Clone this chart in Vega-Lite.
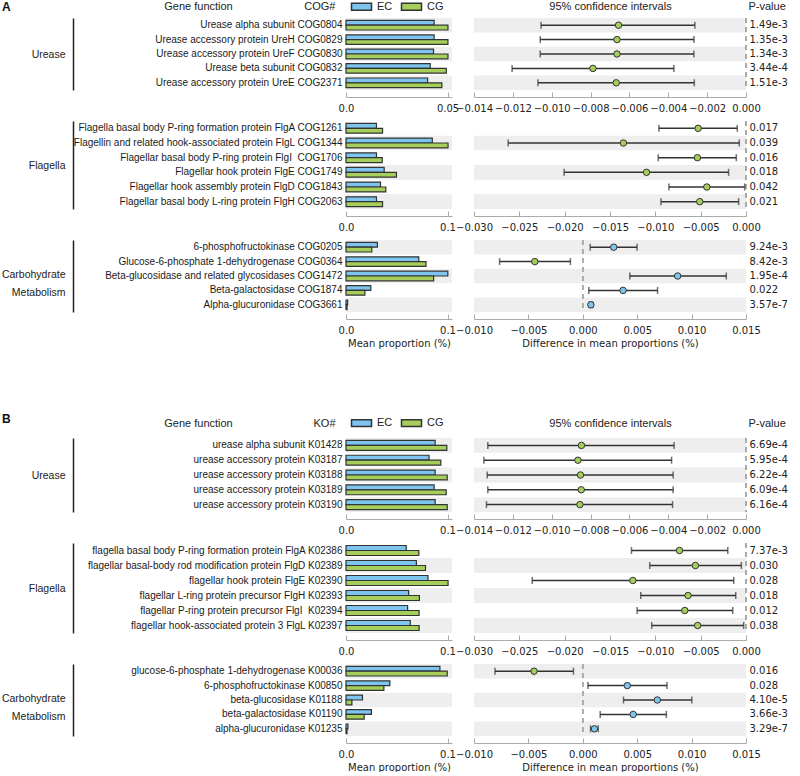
{
  "$schema": "https://vega.github.io/schema/vega-lite/v6.json",
  "padding": {"left": 1, "top": 0, "right": 0, "bottom": 0},
  "background": "white",
  "config": {
    "view": {"stroke": null},
    "font": "Liberation Sans",
    "axis": {"grid": false, "labelFlush": false, "labelOverlap": false, "titleFontWeight": "normal", "domainColor": "#aaaaaa", "tickColor": "#aaaaaa", "labelFont": "DejaVu Sans", "labelFontSize": 10, "labelColor": "#222222", "titleFont": "DejaVu Sans", "titleFontSize": 10, "titleColor": "#222222"}
  },
  "datasets": {
    "rows": [
      {"g": "AU", "label": "Urease alpha subunit COG0804", "EC": 0.0434, "CG": 0.0502, "diff": -0.00656, "lo": -0.01055, "hi": -0.00263, "pval": "1.49e-3"},
      {"g": "AU", "label": "Urease accessory protein UreH COG0829", "EC": 0.0434, "CG": 0.0502, "diff": -0.00664, "lo": -0.01059, "hi": -0.00268, "pval": "1.35e-3"},
      {"g": "AU", "label": "Urease accessory protein UreF COG0830", "EC": 0.0431, "CG": 0.0502, "diff": -0.00664, "lo": -0.01059, "hi": -0.00268, "pval": "1.34e-3"},
      {"g": "AU", "label": "Urease beta subunit COG0832", "EC": 0.0415, "CG": 0.0494, "diff": -0.00788, "lo": -0.01204, "hi": -0.00371, "pval": "3.44e-4"},
      {"g": "AU", "label": "Urease accessory protein UreE COG2371", "EC": 0.0402, "CG": 0.0472, "diff": -0.00668, "lo": -0.01071, "hi": -0.00266, "pval": "1.51e-3"},
      {"g": "AF", "label": "Flagella basal body P-ring formation protein FlgA COG1261", "EC": 0.030, "CG": 0.036, "diff": -0.00528, "lo": -0.00961, "hi": -0.00096, "pval": "0.017"},
      {"g": "AF", "label": "Flagellin and related hook-associated protein FlgL COG1344", "EC": 0.085, "CG": 0.1005, "diff": -0.01352, "lo": -0.02623, "hi": -0.00074, "pval": "0.039"},
      {"g": "AF", "label": "Flagellar basal body P-ring protein FlgI\u00a0 COG1706", "EC": 0.030, "CG": 0.0357, "diff": -0.00536, "lo": -0.00968, "hi": -0.00107, "pval": "0.016"},
      {"g": "AF", "label": "Flagellar hook protein FlgE COG1749", "EC": 0.0376, "CG": 0.0497, "diff": -0.01097, "lo": -0.02006, "hi": -0.00192, "pval": "0.018"},
      {"g": "AF", "label": "Flagellar hook assembly protein FlgD COG1843", "EC": 0.034, "CG": 0.0392, "diff": -0.00432, "lo": -0.0085, "hi": -0.00015, "pval": "0.042"},
      {"g": "AF", "label": "Flagellar basal body L-ring protein FlgH COG2063", "EC": 0.030, "CG": 0.036, "diff": -0.0051, "lo": -0.00938, "hi": -0.00081, "pval": "0.021"},
      {"g": "AC", "label": "6-phosphofructokinase COG0205", "EC": 0.0309, "CG": 0.0254, "diff": 0.00284, "lo": 0.00068, "hi": 0.00499, "pval": "9.24e-3"},
      {"g": "AC", "label": "Glucose-6-phosphate 1-dehydrogenase COG0364", "EC": 0.0717, "CG": 0.0788, "diff": -0.00441, "lo": -0.00765, "hi": -0.00114, "pval": "8.42e-3"},
      {"g": "AC", "label": "Beta-glucosidase and related glycosidases COG1472", "EC": 0.1003, "CG": 0.0863, "diff": 0.00872, "lo": 0.00432, "hi": 0.01319, "pval": "1.95e-4"},
      {"g": "AC", "label": "Beta-galactosidase COG1874", "EC": 0.0244, "CG": 0.0186, "diff": 0.0037, "lo": 0.00055, "hi": 0.00687, "pval": "0.022"},
      {"g": "AC", "label": "Alpha-glucuronidase COG3661", "EC": 0.0016, "CG": 0.001, "diff": 0.00074, "lo": 0.0006, "hi": 0.0009, "pval": "3.57e-7"},
      {"g": "BU", "label": "urease alpha subunit K01428", "EC": 0.0878, "CG": 0.0993, "diff": -0.00847, "lo": -0.01329, "hi": -0.0037, "pval": "6.69e-4"},
      {"g": "BU", "label": "urease accessory protein K03187", "EC": 0.0818, "CG": 0.0934, "diff": -0.00865, "lo": -0.01349, "hi": -0.00383, "pval": "5.95e-4"},
      {"g": "BU", "label": "urease accessory protein K03188", "EC": 0.0878, "CG": 0.0997, "diff": -0.00852, "lo": -0.01332, "hi": -0.00375, "pval": "6.22e-4"},
      {"g": "BU", "label": "urease accessory protein K03189", "EC": 0.0868, "CG": 0.0987, "diff": -0.00848, "lo": -0.01329, "hi": -0.00375, "pval": "6.09e-4"},
      {"g": "BU", "label": "urease accessory protein K03190", "EC": 0.0878, "CG": 0.0997, "diff": -0.00855, "lo": -0.01336, "hi": -0.00378, "pval": "6.16e-4"},
      {"g": "BF", "label": "flagella basal body P-ring formation protein FlgA K02386", "EC": 0.0593, "CG": 0.0717, "diff": -0.00734, "lo": -0.01263, "hi": -0.00201, "pval": "7.37e-3"},
      {"g": "BF", "label": "flagellar basal-body rod modification protein FlgD K02389", "EC": 0.0693, "CG": 0.0783, "diff": -0.00558, "lo": -0.01062, "hi": -0.00051, "pval": "0.030"},
      {"g": "BF", "label": "flagellar hook protein FlgE K02390", "EC": 0.0807, "CG": 0.1005, "diff": -0.01248, "lo": -0.02358, "hi": -0.00135, "pval": "0.028"},
      {"g": "BF", "label": "flagellar L-ring protein precursor FlgH K02393", "EC": 0.0617, "CG": 0.0723, "diff": -0.00639, "lo": -0.01161, "hi": -0.00113, "pval": "0.018"},
      {"g": "BF", "label": "flagellar P-ring protein precursor FlgI\u00a0 K02394", "EC": 0.0607, "CG": 0.072, "diff": -0.00675, "lo": -0.01201, "hi": -0.00146, "pval": "0.012"},
      {"g": "BF", "label": "flagellar hook-associated protein 3 FlgL K02397", "EC": 0.0633, "CG": 0.072, "diff": -0.00533, "lo": -0.0104, "hi": -0.00026, "pval": "0.038"},
      {"g": "BC", "label": "glucose-6-phosphate 1-dehydrogenase K00036", "EC": 0.0925, "CG": 0.0997, "diff": -0.00448, "lo": -0.00807, "hi": -0.00086, "pval": "0.016"},
      {"g": "BC", "label": "6-phosphofructokinase K00850", "EC": 0.0432, "CG": 0.0373, "diff": 0.00409, "lo": 0.00047, "hi": 0.00774, "pval": "0.028"},
      {"g": "BC", "label": "beta-glucosidase K01188", "EC": 0.0162, "CG": 0.0058, "diff": 0.00685, "lo": 0.00374, "hi": 0.01002, "pval": "4.10e-5"},
      {"g": "BC", "label": "beta-galactosidase K01190", "EC": 0.025, "CG": 0.0179, "diff": 0.00463, "lo": 0.0016, "hi": 0.00768, "pval": "3.66e-3"},
      {"g": "BC", "label": "alpha-glucuronidase K01235", "EC": 0.0019, "CG": 0.001, "diff": 0.00107, "lo": 0.00071, "hi": 0.00142, "pval": "3.29e-7"}
    ]
  },
  "columns": 3,
  "spacing": {"row": 31, "column": 22},
  "bounds": "flush",
  "resolve": {"scale": {"color": "independent", "yOffset": "independent"}},
  "concat": [
    {
      "width": 251, "height": 72,
      "title": {"text": "A", "anchor": "start", "frame": "group", "dx": -71, "offset": -7.5, "baseline": "bottom", "fontSize": 12, "fontWeight": "bold", "font": "Liberation Sans", "color": "#111111"},
      "data": {"name": "rows"},
      "transform": [{"filter": "datum.g == 'AU'"}],
      "mark": {"type": "point", "opacity": 0},
      "encoding": {"y": {"field": "label", "type": "nominal", "sort": null, "axis": {"labels": false, "ticks": false, "domainColor": "#222222", "domainWidth": 1.5, "title": "Urease", "titleAngle": 0, "titleAlign": "right", "titleBaseline": "middle", "titleX": -8, "titleY": 36, "titleFont": "Liberation Sans", "titleFontSize": 10.5}}}
    },
    {
      "width": 106, "height": 72,
      "data": {"name": "rows"},
      "transform": [{"filter": "datum.g == 'AU'"}, {"window": [{"op": "row_number", "as": "rn"}]}],
      "layer": [
        {
          "mark": {"type": "rect", "color": "#eeeeee"},
          "encoding": {
            "y": {"field": "label", "type": "nominal", "sort": null, "scale": {"paddingInner": 0, "paddingOuter": 0}, "axis": {"domain": false, "ticks": false, "labelPadding": 4, "labelFont": "Liberation Sans", "labelFontSize": 10, "labelColor": "#1a1a1a", "labelLimit": 400, "title": "Gene function", "titleAngle": 0, "titleAlign": "center", "titleBaseline": "middle", "titleX": -148, "titleY": -11.3, "titleFont": "Liberation Sans", "titleFontSize": 11}},
            "x": {"datum": 0, "type": "quantitative"},
            "x2": {"datum": 0.0522},
            "opacity": {"condition": {"test": "datum.rn % 2 == 1", "value": 1}, "value": 0}
          }
        },
        {
          "transform": [{"fold": ["EC", "CG"], "as": ["set", "value"]}],
          "mark": {"type": "bar", "stroke": "#333333", "strokeWidth": 1.2},
          "encoding": {
            "y": {"field": "label", "type": "nominal", "sort": null},
            "x": {"field": "value", "type": "quantitative", "scale": {"domain": [0, 0.0522], "nice": false, "zero": false}, "axis": {"offset": 7, "values": [0, 0.05], "tickCount": 20, "labelOverlap": false, "labelExpr": "datum.value == 0 ? '0.0' : format(datum.value, '~g')", "tickSize": -5, "labelPadding": 11, "title": "COG#", "titleAngle": 0, "titleAlign": "right", "titleBaseline": "middle", "titleX": -11, "titleY": -90.3, "titleFont": "Liberation Sans", "titleFontSize": 11}},
            "yOffset": {"field": "set", "type": "nominal", "sort": ["EC", "CG"], "scale": {"paddingInner": 0, "paddingOuter": 0.5}},
            "color": {"field": "set", "type": "nominal", "sort": ["EC", "CG"], "scale": {"domain": ["EC", "CG"], "range": ["#7dc5ee", "#a5ce5b"]}, "legend": {"orient": "none", "legendX": 10, "legendY": -16.8, "direction": "horizontal", "title": null, "padding": 0, "symbolType": "M-2.5,-0.85H2.5V0.85H-2.5Z", "symbolSize": 64, "symbolStrokeColor": "#333333", "symbolStrokeWidth": 1.5, "symbolOpacity": 1, "labelFont": "Liberation Sans", "labelFontSize": 11, "labelColor": "#222222", "labelOffset": 10, "columnPadding": 5}}
          }
        }
      ]
    },
    {
      "width": 272, "height": 72,
      "data": {"name": "rows"},
      "transform": [{"filter": "datum.g == 'AU'"}, {"window": [{"op": "row_number", "as": "rn"}]}],
      "layer": [
        {
          "mark": {"type": "rect", "color": "#eeeeee"},
          "encoding": {
            "y": {"field": "pval", "type": "nominal", "sort": null, "scale": {"paddingInner": 0, "paddingOuter": 0}, "axis": {"orient": "right", "domain": false, "ticks": false, "labelPadding": 3, "title": "P-value", "titleAngle": 0, "titleAlign": "left", "titleBaseline": "middle", "titleX": 2, "titleY": -11.3, "titleFont": "Liberation Sans", "titleFontSize": 11}},
            "x": {"datum": -0.014, "type": "quantitative", "scale": {"domain": [-0.014, 0], "nice": false, "zero": false}, "axis": {"offset": 7, "values": [-0.014, -0.012, -0.01, -0.008, -0.006, -0.004, -0.002, 0], "tickCount": 20, "labelOverlap": false, "format": ".3f", "tickSize": -5, "labelPadding": 11, "title": "95% confidence intervals", "titleAngle": 0, "titleAlign": "center", "titleBaseline": "middle", "titleX": 136, "titleY": -90.3, "titleFont": "Liberation Sans", "titleFontSize": 11}},
            "x2": {"datum": 0},
            "opacity": {"condition": {"test": "datum.rn % 2 == 1", "value": 1}, "value": 0}
          }
        },
        {"mark": {"type": "rule", "color": "#aaaaaa", "strokeDash": [5, 4], "strokeWidth": 1.2}, "encoding": {"x": {"datum": 0}}},
        {"mark": {"type": "rule", "color": "#333333", "strokeWidth": 1.5}, "encoding": {"y": {"field": "pval", "type": "nominal", "sort": null}, "x": {"field": "lo", "type": "quantitative"}, "x2": {"field": "hi"}}},
        {"mark": {"type": "tick", "color": "#333333", "size": 7, "thickness": 1.5}, "encoding": {"y": {"field": "pval", "type": "nominal", "sort": null}, "x": {"field": "lo", "type": "quantitative"}}},
        {"mark": {"type": "tick", "color": "#333333", "size": 7, "thickness": 1.5}, "encoding": {"y": {"field": "pval", "type": "nominal", "sort": null}, "x": {"field": "hi", "type": "quantitative"}}},
        {"mark": {"type": "point", "filled": true, "size": 42, "stroke": "#333333", "strokeWidth": 1, "opacity": 1}, "encoding": {"y": {"field": "pval", "type": "nominal", "sort": null}, "x": {"field": "diff", "type": "quantitative"}, "fill": {"condition": {"test": "datum.diff > 0", "value": "#7dc5ee"}, "value": "#a5ce5b"}}}
      ]
    },
    {
      "width": 251, "height": 88,
      "data": {"name": "rows"},
      "transform": [{"filter": "datum.g == 'AF'"}],
      "mark": {"type": "point", "opacity": 0},
      "encoding": {"y": {"field": "label", "type": "nominal", "sort": null, "axis": {"labels": false, "ticks": false, "domainColor": "#222222", "domainWidth": 1.5, "title": "Flagella", "titleAngle": 0, "titleAlign": "right", "titleBaseline": "middle", "titleX": -8, "titleY": 44, "titleFont": "Liberation Sans", "titleFontSize": 10.5}}}
    },
    {
      "width": 106, "height": 88,
      "data": {"name": "rows"},
      "transform": [{"filter": "datum.g == 'AF'"}, {"window": [{"op": "row_number", "as": "rn"}]}],
      "layer": [
        {
          "mark": {"type": "rect", "color": "#eeeeee"},
          "encoding": {
            "y": {"field": "label", "type": "nominal", "sort": null, "scale": {"paddingInner": 0, "paddingOuter": 0}, "axis": {"domain": false, "ticks": false, "labelPadding": 4, "labelFont": "Liberation Sans", "labelFontSize": 10, "labelColor": "#1a1a1a", "labelLimit": 400, "title": null}},
            "x": {"datum": 0, "type": "quantitative"},
            "x2": {"datum": 0.1044},
            "opacity": {"condition": {"test": "datum.rn % 2 == 0", "value": 1}, "value": 0}
          }
        },
        {
          "transform": [{"fold": ["EC", "CG"], "as": ["set", "value"]}],
          "mark": {"type": "bar", "stroke": "#333333", "strokeWidth": 1.2},
          "encoding": {
            "y": {"field": "label", "type": "nominal", "sort": null},
            "x": {"field": "value", "type": "quantitative", "scale": {"domain": [0, 0.1044], "nice": false, "zero": false}, "axis": {"offset": 7, "values": [0, 0.1], "tickCount": 20, "labelOverlap": false, "labelExpr": "datum.value == 0 ? '0.0' : format(datum.value, '~g')", "tickSize": -5, "labelPadding": 11, "title": null}},
            "yOffset": {"field": "set", "type": "nominal", "sort": ["EC", "CG"], "scale": {"paddingInner": 0, "paddingOuter": 0.5}},
            "color": {"field": "set", "type": "nominal", "sort": ["EC", "CG"], "scale": {"domain": ["EC", "CG"], "range": ["#7dc5ee", "#a5ce5b"]}, "legend": null}
          }
        }
      ]
    },
    {
      "width": 272, "height": 88,
      "data": {"name": "rows"},
      "transform": [{"filter": "datum.g == 'AF'"}, {"window": [{"op": "row_number", "as": "rn"}]}],
      "layer": [
        {
          "mark": {"type": "rect", "color": "#eeeeee"},
          "encoding": {
            "y": {"field": "pval", "type": "nominal", "sort": null, "scale": {"paddingInner": 0, "paddingOuter": 0}, "axis": {"orient": "right", "domain": false, "ticks": false, "labelPadding": 3, "title": null}},
            "x": {"datum": -0.03, "type": "quantitative", "scale": {"domain": [-0.03, 0], "nice": false, "zero": false}, "axis": {"offset": 7, "values": [-0.03, -0.025, -0.02, -0.015, -0.01, -0.005, 0], "tickCount": 20, "labelOverlap": false, "format": ".3f", "tickSize": -5, "labelPadding": 11, "title": null}},
            "x2": {"datum": 0},
            "opacity": {"condition": {"test": "datum.rn % 2 == 0", "value": 1}, "value": 0}
          }
        },
        {"mark": {"type": "rule", "color": "#aaaaaa", "strokeDash": [5, 4], "strokeWidth": 1.2}, "encoding": {"x": {"datum": 0}}},
        {"mark": {"type": "rule", "color": "#333333", "strokeWidth": 1.5}, "encoding": {"y": {"field": "pval", "type": "nominal", "sort": null}, "x": {"field": "lo", "type": "quantitative"}, "x2": {"field": "hi"}}},
        {"mark": {"type": "tick", "color": "#333333", "size": 7, "thickness": 1.5}, "encoding": {"y": {"field": "pval", "type": "nominal", "sort": null}, "x": {"field": "lo", "type": "quantitative"}}},
        {"mark": {"type": "tick", "color": "#333333", "size": 7, "thickness": 1.5}, "encoding": {"y": {"field": "pval", "type": "nominal", "sort": null}, "x": {"field": "hi", "type": "quantitative"}}},
        {"mark": {"type": "point", "filled": true, "size": 42, "stroke": "#333333", "strokeWidth": 1, "opacity": 1}, "encoding": {"y": {"field": "pval", "type": "nominal", "sort": null}, "x": {"field": "diff", "type": "quantitative"}, "fill": {"condition": {"test": "datum.diff > 0", "value": "#7dc5ee"}, "value": "#a5ce5b"}}}
      ]
    },
    {
      "width": 251, "height": 72,
      "data": {"name": "rows"},
      "transform": [{"filter": "datum.g == 'AC'"}],
      "mark": {"type": "point", "opacity": 0},
      "encoding": {"y": {"field": "label", "type": "nominal", "sort": null, "axis": {"labels": false, "ticks": false, "domainColor": "#222222", "domainWidth": 1.5, "title": ["Carbohydrate", "Metabolism"], "titleLineHeight": 18, "titleAngle": 0, "titleAlign": "right", "titleBaseline": "middle", "titleX": -8, "titleY": 34, "titleFont": "Liberation Sans", "titleFontSize": 10.5}}}
    },
    {
      "width": 106, "height": 72,
      "data": {"name": "rows"},
      "transform": [{"filter": "datum.g == 'AC'"}, {"window": [{"op": "row_number", "as": "rn"}]}],
      "layer": [
        {
          "mark": {"type": "rect", "color": "#eeeeee"},
          "encoding": {
            "y": {"field": "label", "type": "nominal", "sort": null, "scale": {"paddingInner": 0, "paddingOuter": 0}, "axis": {"domain": false, "ticks": false, "labelPadding": 4, "labelFont": "Liberation Sans", "labelFontSize": 10, "labelColor": "#1a1a1a", "labelLimit": 400, "title": null}},
            "x": {"datum": 0, "type": "quantitative"},
            "x2": {"datum": 0.1044},
            "opacity": {"condition": {"test": "datum.rn % 2 == 1", "value": 1}, "value": 0}
          }
        },
        {
          "transform": [{"fold": ["EC", "CG"], "as": ["set", "value"]}],
          "mark": {"type": "bar", "stroke": "#333333", "strokeWidth": 1.2},
          "encoding": {
            "y": {"field": "label", "type": "nominal", "sort": null},
            "x": {"field": "value", "type": "quantitative", "scale": {"domain": [0, 0.1044], "nice": false, "zero": false}, "axis": {"offset": 7, "values": [0, 0.1], "tickCount": 20, "labelOverlap": false, "labelExpr": "datum.value == 0 ? '0.0' : format(datum.value, '~g')", "tickSize": -5, "labelPadding": 11, "title": "Mean proportion (%)", "titlePadding": 3}},
            "yOffset": {"field": "set", "type": "nominal", "sort": ["EC", "CG"], "scale": {"paddingInner": 0, "paddingOuter": 0.5}},
            "color": {"field": "set", "type": "nominal", "sort": ["EC", "CG"], "scale": {"domain": ["EC", "CG"], "range": ["#7dc5ee", "#a5ce5b"]}, "legend": null}
          }
        }
      ]
    },
    {
      "width": 272, "height": 72,
      "data": {"name": "rows"},
      "transform": [{"filter": "datum.g == 'AC'"}, {"window": [{"op": "row_number", "as": "rn"}]}],
      "layer": [
        {
          "mark": {"type": "rect", "color": "#eeeeee"},
          "encoding": {
            "y": {"field": "pval", "type": "nominal", "sort": null, "scale": {"paddingInner": 0, "paddingOuter": 0}, "axis": {"orient": "right", "domain": false, "ticks": false, "labelPadding": 3, "title": null}},
            "x": {"datum": -0.01, "type": "quantitative", "scale": {"domain": [-0.01, 0.015], "nice": false, "zero": false}, "axis": {"offset": 7, "values": [-0.01, -0.005, 0, 0.005, 0.01, 0.015], "tickCount": 20, "labelOverlap": false, "format": ".3f", "tickSize": -5, "labelPadding": 11, "title": "Difference in mean proportions (%)", "titlePadding": 3}},
            "x2": {"datum": 0.015},
            "opacity": {"condition": {"test": "datum.rn % 2 == 1", "value": 1}, "value": 0}
          }
        },
        {"mark": {"type": "rule", "color": "#aaaaaa", "strokeDash": [5, 4], "strokeWidth": 1.2}, "encoding": {"x": {"datum": 0}}},
        {"mark": {"type": "rule", "color": "#333333", "strokeWidth": 1.5}, "encoding": {"y": {"field": "pval", "type": "nominal", "sort": null}, "x": {"field": "lo", "type": "quantitative"}, "x2": {"field": "hi"}}},
        {"mark": {"type": "tick", "color": "#333333", "size": 7, "thickness": 1.5}, "encoding": {"y": {"field": "pval", "type": "nominal", "sort": null}, "x": {"field": "lo", "type": "quantitative"}}},
        {"mark": {"type": "tick", "color": "#333333", "size": 7, "thickness": 1.5}, "encoding": {"y": {"field": "pval", "type": "nominal", "sort": null}, "x": {"field": "hi", "type": "quantitative"}}},
        {"mark": {"type": "point", "filled": true, "size": 42, "stroke": "#333333", "strokeWidth": 1, "opacity": 1}, "encoding": {"y": {"field": "pval", "type": "nominal", "sort": null}, "x": {"field": "diff", "type": "quantitative"}, "fill": {"condition": {"test": "datum.diff > 0", "value": "#7dc5ee"}, "value": "#a5ce5b"}}}
      ]
    },
    {"width": 251, "height": 63.7, "data": {"values": [{"s": 1}]}, "mark": {"type": "point", "opacity": 0}, "encoding": {}},
    {"width": 106, "height": 63.7, "data": {"values": [{"s": 1}]}, "mark": {"type": "point", "opacity": 0}, "encoding": {}},
    {"width": 272, "height": 63.7, "data": {"values": [{"s": 1}]}, "mark": {"type": "point", "opacity": 0}, "encoding": {}},
    {
      "width": 251, "height": 74,
      "title": {"text": "B", "anchor": "start", "frame": "group", "dx": -71, "offset": 0, "baseline": "bottom", "fontSize": 12, "fontWeight": "bold", "font": "Liberation Sans", "color": "#111111"},
      "data": {"name": "rows"},
      "transform": [{"filter": "datum.g == 'BU'"}],
      "mark": {"type": "point", "opacity": 0},
      "encoding": {"y": {"field": "label", "type": "nominal", "sort": null, "axis": {"labels": false, "ticks": false, "domainColor": "#222222", "domainWidth": 1.5, "title": "Urease", "titleAngle": 0, "titleAlign": "right", "titleBaseline": "middle", "titleX": -8, "titleY": 37, "titleFont": "Liberation Sans", "titleFontSize": 10.5}}}
    },
    {
      "width": 106, "height": 74,
      "data": {"name": "rows"},
      "transform": [{"filter": "datum.g == 'BU'"}, {"window": [{"op": "row_number", "as": "rn"}]}],
      "layer": [
        {
          "mark": {"type": "rect", "color": "#eeeeee"},
          "encoding": {
            "y": {"field": "label", "type": "nominal", "sort": null, "scale": {"paddingInner": 0, "paddingOuter": 0}, "axis": {"domain": false, "ticks": false, "labelPadding": 4, "labelFont": "Liberation Sans", "labelFontSize": 10, "labelColor": "#1a1a1a", "labelLimit": 400, "title": "Gene function", "titleAngle": 0, "titleAlign": "center", "titleBaseline": "middle", "titleX": -148, "titleY": -15, "titleFont": "Liberation Sans", "titleFontSize": 11}},
            "x": {"datum": 0, "type": "quantitative"},
            "x2": {"datum": 0.1044},
            "opacity": {"condition": {"test": "datum.rn % 2 == 1", "value": 1}, "value": 0}
          }
        },
        {
          "transform": [{"fold": ["EC", "CG"], "as": ["set", "value"]}],
          "mark": {"type": "bar", "stroke": "#333333", "strokeWidth": 1.2},
          "encoding": {
            "y": {"field": "label", "type": "nominal", "sort": null},
            "x": {"field": "value", "type": "quantitative", "scale": {"domain": [0, 0.1044], "nice": false, "zero": false}, "axis": {"offset": 7, "values": [0, 0.1], "tickCount": 20, "labelOverlap": false, "labelExpr": "datum.value == 0 ? '0.0' : format(datum.value, '~g')", "tickSize": -5, "labelPadding": 11, "title": "KO#", "titleAngle": 0, "titleAlign": "right", "titleBaseline": "middle", "titleX": -11, "titleY": -96, "titleFont": "Liberation Sans", "titleFontSize": 11}},
            "yOffset": {"field": "set", "type": "nominal", "sort": ["EC", "CG"], "scale": {"paddingInner": 0, "paddingOuter": 0.5}},
            "color": {"field": "set", "type": "nominal", "sort": ["EC", "CG"], "scale": {"domain": ["EC", "CG"], "range": ["#7dc5ee", "#a5ce5b"]}, "legend": {"orient": "none", "legendX": 10, "legendY": -20.5, "direction": "horizontal", "title": null, "padding": 0, "symbolType": "M-2.5,-0.85H2.5V0.85H-2.5Z", "symbolSize": 64, "symbolStrokeColor": "#333333", "symbolStrokeWidth": 1.5, "symbolOpacity": 1, "labelFont": "Liberation Sans", "labelFontSize": 11, "labelColor": "#222222", "labelOffset": 10, "columnPadding": 5}}
          }
        }
      ]
    },
    {
      "width": 272, "height": 74,
      "data": {"name": "rows"},
      "transform": [{"filter": "datum.g == 'BU'"}, {"window": [{"op": "row_number", "as": "rn"}]}],
      "layer": [
        {
          "mark": {"type": "rect", "color": "#eeeeee"},
          "encoding": {
            "y": {"field": "pval", "type": "nominal", "sort": null, "scale": {"paddingInner": 0, "paddingOuter": 0}, "axis": {"orient": "right", "domain": false, "ticks": false, "labelPadding": 3, "title": "P-value", "titleAngle": 0, "titleAlign": "left", "titleBaseline": "middle", "titleX": 2, "titleY": -15, "titleFont": "Liberation Sans", "titleFontSize": 11}},
            "x": {"datum": -0.014, "type": "quantitative", "scale": {"domain": [-0.014, 0], "nice": false, "zero": false}, "axis": {"offset": 7, "values": [-0.014, -0.012, -0.01, -0.008, -0.006, -0.004, -0.002, 0], "tickCount": 20, "labelOverlap": false, "format": ".3f", "tickSize": -5, "labelPadding": 11, "title": "95% confidence intervals", "titleAngle": 0, "titleAlign": "center", "titleBaseline": "middle", "titleX": 136, "titleY": -96, "titleFont": "Liberation Sans", "titleFontSize": 11}},
            "x2": {"datum": 0},
            "opacity": {"condition": {"test": "datum.rn % 2 == 1", "value": 1}, "value": 0}
          }
        },
        {"mark": {"type": "rule", "color": "#aaaaaa", "strokeDash": [5, 4], "strokeWidth": 1.2}, "encoding": {"x": {"datum": 0}}},
        {"mark": {"type": "rule", "color": "#333333", "strokeWidth": 1.5}, "encoding": {"y": {"field": "pval", "type": "nominal", "sort": null}, "x": {"field": "lo", "type": "quantitative"}, "x2": {"field": "hi"}}},
        {"mark": {"type": "tick", "color": "#333333", "size": 7, "thickness": 1.5}, "encoding": {"y": {"field": "pval", "type": "nominal", "sort": null}, "x": {"field": "lo", "type": "quantitative"}}},
        {"mark": {"type": "tick", "color": "#333333", "size": 7, "thickness": 1.5}, "encoding": {"y": {"field": "pval", "type": "nominal", "sort": null}, "x": {"field": "hi", "type": "quantitative"}}},
        {"mark": {"type": "point", "filled": true, "size": 42, "stroke": "#333333", "strokeWidth": 1, "opacity": 1}, "encoding": {"y": {"field": "pval", "type": "nominal", "sort": null}, "x": {"field": "diff", "type": "quantitative"}, "fill": {"condition": {"test": "datum.diff > 0", "value": "#7dc5ee"}, "value": "#a5ce5b"}}}
      ]
    },
    {
      "width": 251, "height": 90,
      "data": {"name": "rows"},
      "transform": [{"filter": "datum.g == 'BF'"}],
      "mark": {"type": "point", "opacity": 0},
      "encoding": {"y": {"field": "label", "type": "nominal", "sort": null, "axis": {"labels": false, "ticks": false, "domainColor": "#222222", "domainWidth": 1.5, "title": "Flagella", "titleAngle": 0, "titleAlign": "right", "titleBaseline": "middle", "titleX": -8, "titleY": 45, "titleFont": "Liberation Sans", "titleFontSize": 10.5}}}
    },
    {
      "width": 106, "height": 90,
      "data": {"name": "rows"},
      "transform": [{"filter": "datum.g == 'BF'"}, {"window": [{"op": "row_number", "as": "rn"}]}],
      "layer": [
        {
          "mark": {"type": "rect", "color": "#eeeeee"},
          "encoding": {
            "y": {"field": "label", "type": "nominal", "sort": null, "scale": {"paddingInner": 0, "paddingOuter": 0}, "axis": {"domain": false, "ticks": false, "labelPadding": 4, "labelFont": "Liberation Sans", "labelFontSize": 10, "labelColor": "#1a1a1a", "labelLimit": 400, "title": null}},
            "x": {"datum": 0, "type": "quantitative"},
            "x2": {"datum": 0.1044},
            "opacity": {"condition": {"test": "datum.rn % 2 == 0", "value": 1}, "value": 0}
          }
        },
        {
          "transform": [{"fold": ["EC", "CG"], "as": ["set", "value"]}],
          "mark": {"type": "bar", "stroke": "#333333", "strokeWidth": 1.2},
          "encoding": {
            "y": {"field": "label", "type": "nominal", "sort": null},
            "x": {"field": "value", "type": "quantitative", "scale": {"domain": [0, 0.1044], "nice": false, "zero": false}, "axis": {"offset": 7, "values": [0, 0.1], "tickCount": 20, "labelOverlap": false, "labelExpr": "datum.value == 0 ? '0.0' : format(datum.value, '~g')", "tickSize": -5, "labelPadding": 11, "title": null}},
            "yOffset": {"field": "set", "type": "nominal", "sort": ["EC", "CG"], "scale": {"paddingInner": 0, "paddingOuter": 0.5}},
            "color": {"field": "set", "type": "nominal", "sort": ["EC", "CG"], "scale": {"domain": ["EC", "CG"], "range": ["#7dc5ee", "#a5ce5b"]}, "legend": null}
          }
        }
      ]
    },
    {
      "width": 272, "height": 90,
      "data": {"name": "rows"},
      "transform": [{"filter": "datum.g == 'BF'"}, {"window": [{"op": "row_number", "as": "rn"}]}],
      "layer": [
        {
          "mark": {"type": "rect", "color": "#eeeeee"},
          "encoding": {
            "y": {"field": "pval", "type": "nominal", "sort": null, "scale": {"paddingInner": 0, "paddingOuter": 0}, "axis": {"orient": "right", "domain": false, "ticks": false, "labelPadding": 3, "title": null}},
            "x": {"datum": -0.03, "type": "quantitative", "scale": {"domain": [-0.03, 0], "nice": false, "zero": false}, "axis": {"offset": 7, "values": [-0.03, -0.025, -0.02, -0.015, -0.01, -0.005, 0], "tickCount": 20, "labelOverlap": false, "format": ".3f", "tickSize": -5, "labelPadding": 11, "title": null}},
            "x2": {"datum": 0},
            "opacity": {"condition": {"test": "datum.rn % 2 == 0", "value": 1}, "value": 0}
          }
        },
        {"mark": {"type": "rule", "color": "#aaaaaa", "strokeDash": [5, 4], "strokeWidth": 1.2}, "encoding": {"x": {"datum": 0}}},
        {"mark": {"type": "rule", "color": "#333333", "strokeWidth": 1.5}, "encoding": {"y": {"field": "pval", "type": "nominal", "sort": null}, "x": {"field": "lo", "type": "quantitative"}, "x2": {"field": "hi"}}},
        {"mark": {"type": "tick", "color": "#333333", "size": 7, "thickness": 1.5}, "encoding": {"y": {"field": "pval", "type": "nominal", "sort": null}, "x": {"field": "lo", "type": "quantitative"}}},
        {"mark": {"type": "tick", "color": "#333333", "size": 7, "thickness": 1.5}, "encoding": {"y": {"field": "pval", "type": "nominal", "sort": null}, "x": {"field": "hi", "type": "quantitative"}}},
        {"mark": {"type": "point", "filled": true, "size": 42, "stroke": "#333333", "strokeWidth": 1, "opacity": 1}, "encoding": {"y": {"field": "pval", "type": "nominal", "sort": null}, "x": {"field": "diff", "type": "quantitative"}, "fill": {"condition": {"test": "datum.diff > 0", "value": "#7dc5ee"}, "value": "#a5ce5b"}}}
      ]
    },
    {
      "width": 251, "height": 72,
      "data": {"name": "rows"},
      "transform": [{"filter": "datum.g == 'BC'"}],
      "mark": {"type": "point", "opacity": 0},
      "encoding": {"y": {"field": "label", "type": "nominal", "sort": null, "axis": {"labels": false, "ticks": false, "domainColor": "#222222", "domainWidth": 1.5, "title": ["Carbohydrate", "Metabolism"], "titleLineHeight": 18, "titleAngle": 0, "titleAlign": "right", "titleBaseline": "middle", "titleX": -8, "titleY": 34, "titleFont": "Liberation Sans", "titleFontSize": 10.5}}}
    },
    {
      "width": 106, "height": 72,
      "data": {"name": "rows"},
      "transform": [{"filter": "datum.g == 'BC'"}, {"window": [{"op": "row_number", "as": "rn"}]}],
      "layer": [
        {
          "mark": {"type": "rect", "color": "#eeeeee"},
          "encoding": {
            "y": {"field": "label", "type": "nominal", "sort": null, "scale": {"paddingInner": 0, "paddingOuter": 0}, "axis": {"domain": false, "ticks": false, "labelPadding": 4, "labelFont": "Liberation Sans", "labelFontSize": 10, "labelColor": "#1a1a1a", "labelLimit": 400, "title": null}},
            "x": {"datum": 0, "type": "quantitative"},
            "x2": {"datum": 0.1044},
            "opacity": {"condition": {"test": "datum.rn % 2 == 1", "value": 1}, "value": 0}
          }
        },
        {
          "transform": [{"fold": ["EC", "CG"], "as": ["set", "value"]}],
          "mark": {"type": "bar", "stroke": "#333333", "strokeWidth": 1.2},
          "encoding": {
            "y": {"field": "label", "type": "nominal", "sort": null},
            "x": {"field": "value", "type": "quantitative", "scale": {"domain": [0, 0.1044], "nice": false, "zero": false}, "axis": {"offset": 7, "values": [0, 0.1], "tickCount": 20, "labelOverlap": false, "labelExpr": "datum.value == 0 ? '0.0' : format(datum.value, '~g')", "tickSize": -5, "labelPadding": 11, "title": "Mean proportion (%)", "titlePadding": 3}},
            "yOffset": {"field": "set", "type": "nominal", "sort": ["EC", "CG"], "scale": {"paddingInner": 0, "paddingOuter": 0.5}},
            "color": {"field": "set", "type": "nominal", "sort": ["EC", "CG"], "scale": {"domain": ["EC", "CG"], "range": ["#7dc5ee", "#a5ce5b"]}, "legend": null}
          }
        }
      ]
    },
    {
      "width": 272, "height": 72,
      "data": {"name": "rows"},
      "transform": [{"filter": "datum.g == 'BC'"}, {"window": [{"op": "row_number", "as": "rn"}]}],
      "layer": [
        {
          "mark": {"type": "rect", "color": "#eeeeee"},
          "encoding": {
            "y": {"field": "pval", "type": "nominal", "sort": null, "scale": {"paddingInner": 0, "paddingOuter": 0}, "axis": {"orient": "right", "domain": false, "ticks": false, "labelPadding": 3, "title": null}},
            "x": {"datum": -0.01, "type": "quantitative", "scale": {"domain": [-0.01, 0.015], "nice": false, "zero": false}, "axis": {"offset": 7, "values": [-0.01, -0.005, 0, 0.005, 0.01, 0.015], "tickCount": 20, "labelOverlap": false, "format": ".3f", "tickSize": -5, "labelPadding": 11, "title": "Difference in mean proportions (%)", "titlePadding": 3}},
            "x2": {"datum": 0.015},
            "opacity": {"condition": {"test": "datum.rn % 2 == 1", "value": 1}, "value": 0}
          }
        },
        {"mark": {"type": "rule", "color": "#aaaaaa", "strokeDash": [5, 4], "strokeWidth": 1.2}, "encoding": {"x": {"datum": 0}}},
        {"mark": {"type": "rule", "color": "#333333", "strokeWidth": 1.5}, "encoding": {"y": {"field": "pval", "type": "nominal", "sort": null}, "x": {"field": "lo", "type": "quantitative"}, "x2": {"field": "hi"}}},
        {"mark": {"type": "tick", "color": "#333333", "size": 7, "thickness": 1.5}, "encoding": {"y": {"field": "pval", "type": "nominal", "sort": null}, "x": {"field": "lo", "type": "quantitative"}}},
        {"mark": {"type": "tick", "color": "#333333", "size": 7, "thickness": 1.5}, "encoding": {"y": {"field": "pval", "type": "nominal", "sort": null}, "x": {"field": "hi", "type": "quantitative"}}},
        {"mark": {"type": "point", "filled": true, "size": 42, "stroke": "#333333", "strokeWidth": 1, "opacity": 1}, "encoding": {"y": {"field": "pval", "type": "nominal", "sort": null}, "x": {"field": "diff", "type": "quantitative"}, "fill": {"condition": {"test": "datum.diff > 0", "value": "#7dc5ee"}, "value": "#a5ce5b"}}}
      ]
    }
  ]
}
